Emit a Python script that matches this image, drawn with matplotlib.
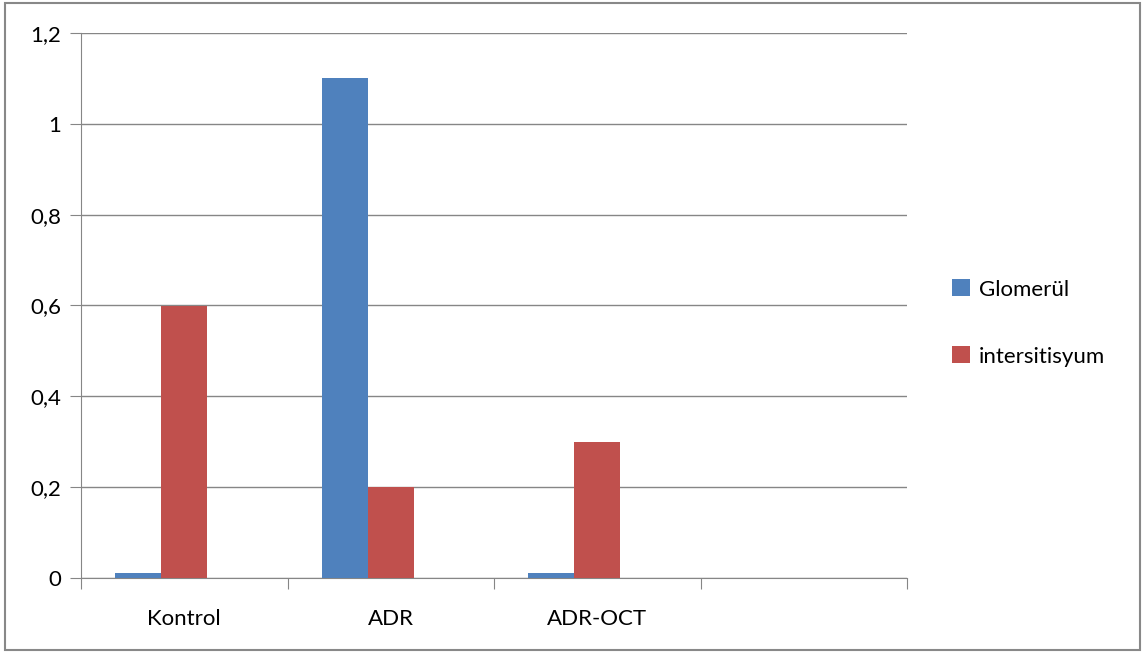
import numpy as np
import matplotlib.pyplot as plt
from matplotlib.patches import Rectangle
from matplotlib.ticker import FuncFormatter, MultipleLocator

# veriler
categories = ['Kontrol', 'ADR', 'ADR-OCT', '']
glomerul = [0.01, 1.1, 0.01, 0]
intersitisyum = [0.6, 0.2, 0.3, 0]
series_names = ['Glomerül', 'intersitisyum']
colors = ['#4F81BD', '#C0504D']

plt.rcParams['font.family'] = ['Lato', 'DejaVu Sans']

fig = plt.figure(figsize=(11.44, 6.53), dpi=100)
ax = fig.add_axes([81/1144, 1 - 578/653, 826/1144, 545/653])

x = np.arange(len(categories))
w = 1 / 4.5  # Excel: 3 seri (üçüncüsü boş), %150 boşluk
b1 = ax.bar(x - w, glomerul, w, color=colors[0], label=series_names[0], zorder=3)
b2 = ax.bar(x, intersitisyum, w, color=colors[1], label=series_names[1], zorder=3)

ax.set_xlim(-0.5, len(categories) - 0.5)
ax.set_ylim(0, 1.2)
ax.yaxis.set_major_locator(MultipleLocator(0.2))
ax.yaxis.set_major_formatter(FuncFormatter(lambda v, p: f'{v:g}'.replace('.', ',')))
ax.grid(axis='y', color='#868686', linewidth=1, zorder=0)

ax.set_xticks(np.arange(len(categories) + 1) - 0.5)
ax.set_xticklabels([])
ax.set_xticks(x, minor=True)
ax.set_xticklabels(categories, minor=True)
ax.tick_params(axis='x', which='minor', length=0, pad=22, labelsize=16)
ax.tick_params(axis='x', which='major', length=8, color='#868686')
ax.tick_params(axis='y', length=8, color='#868686', labelsize=16, pad=6)

for s in ['top', 'right']:
    ax.spines[s].set_visible(False)
for s in ['left', 'bottom']:
    ax.spines[s].set_color('#868686')

fig.legend(handles=[b1, b2], loc='center left', bbox_to_anchor=(932/1144, 1 - 323/653),
           frameon=False, fontsize=16, handlelength=0.8, handleheight=0.8,
           handletextpad=0.4, labelspacing=2.1)

fig.add_artist(Rectangle((5/1144, 3/653), 1135/1144, 647/653, transform=fig.transFigure,
                         fill=False, edgecolor='#888888', linewidth=1.5))

fig.savefig('out.png', dpi=100)
